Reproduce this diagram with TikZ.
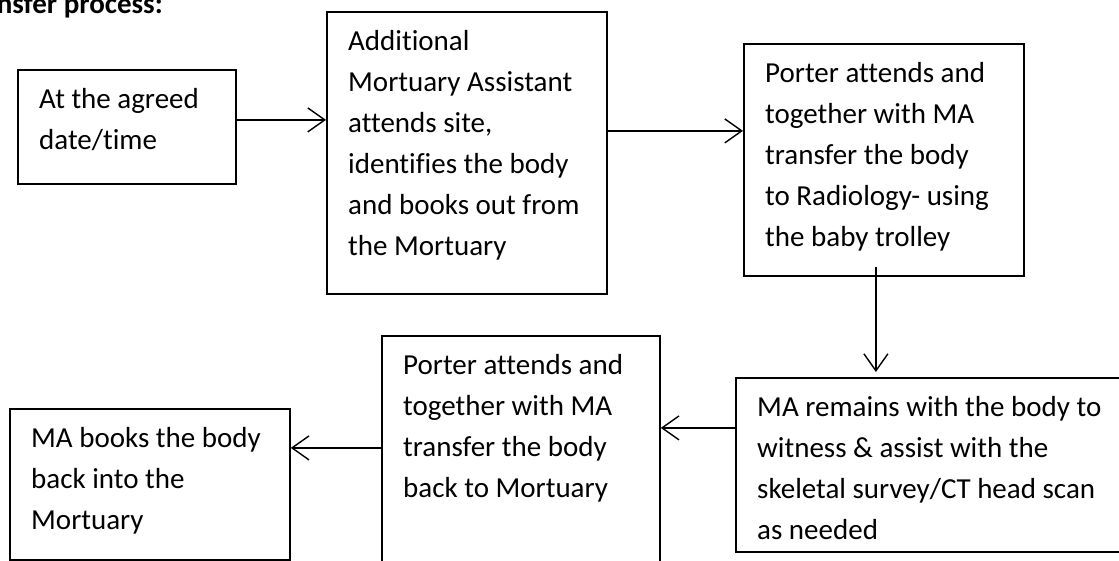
\documentclass[tikz,border=0pt]{standalone}
\usepackage{fontspec}
\setmainfont{Carlito}[Ligatures=CommonOff]
\usetikzlibrary{arrows.meta,positioning}

\tikzset{
  stepbox/.style={draw, line width=1.8pt, anchor=north west, inner sep=0pt},
  steptext/.style={anchor=north west, align=left, inner xsep=22pt, inner ysep=19pt,
    font=\fontsize{29}{41}\selectfont},
  flow/.style={line width=1.4pt, -{Straight Barb[length=17pt,width=24pt]}}
}

\begin{document}
\begin{tikzpicture}[x=1pt,y=-1pt] %Transfer flow
  \useasboundingbox (0,0) rectangle (1119,561);
  \node[anchor=base east, inner sep=0pt, font=\fontsize{29}{34}\selectfont\bfseries] (title) at (163,14) {nsfer process:};

  % boxes
  \node[stepbox, minimum width=218pt, minimum height=114pt] (date) at (17,69) {};
  \node[stepbox, minimum width=280pt, minimum height=282pt] (assist) at (326,11) {};
  \node[stepbox, minimum width=280pt, minimum height=232pt] (porter) at (743,43) {};
  \node[stepbox, minimum width=400pt, minimum height=174pt] (scan) at (735,377) {};
  \node[stepbox, minimum width=278pt, minimum height=240pt] (back) at (381,335) {};
  \node[stepbox, minimum width=280pt, minimum height=151pt] (books) at (9,408) {};

  % texts
  \node[steptext] (datetxt) at (date.north west) {At the agreed\\date/time};
  \node[steptext] (assisttxt) at (assist.north west) {Additional\\Mortuary Assistant\\attends site,\\identifies the body\\and books out from\\the Mortuary};
  \node[steptext] (portertxt) at (porter.north west) {Porter attends and\\together with MA\\transfer the body\\to Radiology- using\\the baby trolley};
  \node[steptext] (scantxt) at (scan.north west) {MA remains with the body to\\witness \& assist with the\\skeletal survey/CT head scan\\as needed};
  \node[steptext] (backtxt) at (back.north west) {Porter attends and\\together with MA\\transfer the body\\back to Mortuary};
  \node[steptext] (bookstxt) at (books.north west) {MA books the body\\back into the\\Mortuary};

  % arrows
  \draw[flow] ([yshift=7pt]date.east) -- ([yshift=7pt]date.east -| assist.west);
  \draw[flow] ([yshift=22pt]assist.east) -- ([yshift=22pt]assist.east -| porter.west);
  \draw[flow, shorten >=5pt] ([xshift=-8pt,yshift=10pt]porter.south) -- ([xshift=-8pt]porter.south |- scan.north);
  \draw[flow] ([yshift=37pt]scan.west) -- ([yshift=37pt]scan.west -| back.east);
  \draw[flow] ([yshift=8pt]back.west) -- ([yshift=8pt]back.west -| books.east);
\end{tikzpicture}
\end{document}
